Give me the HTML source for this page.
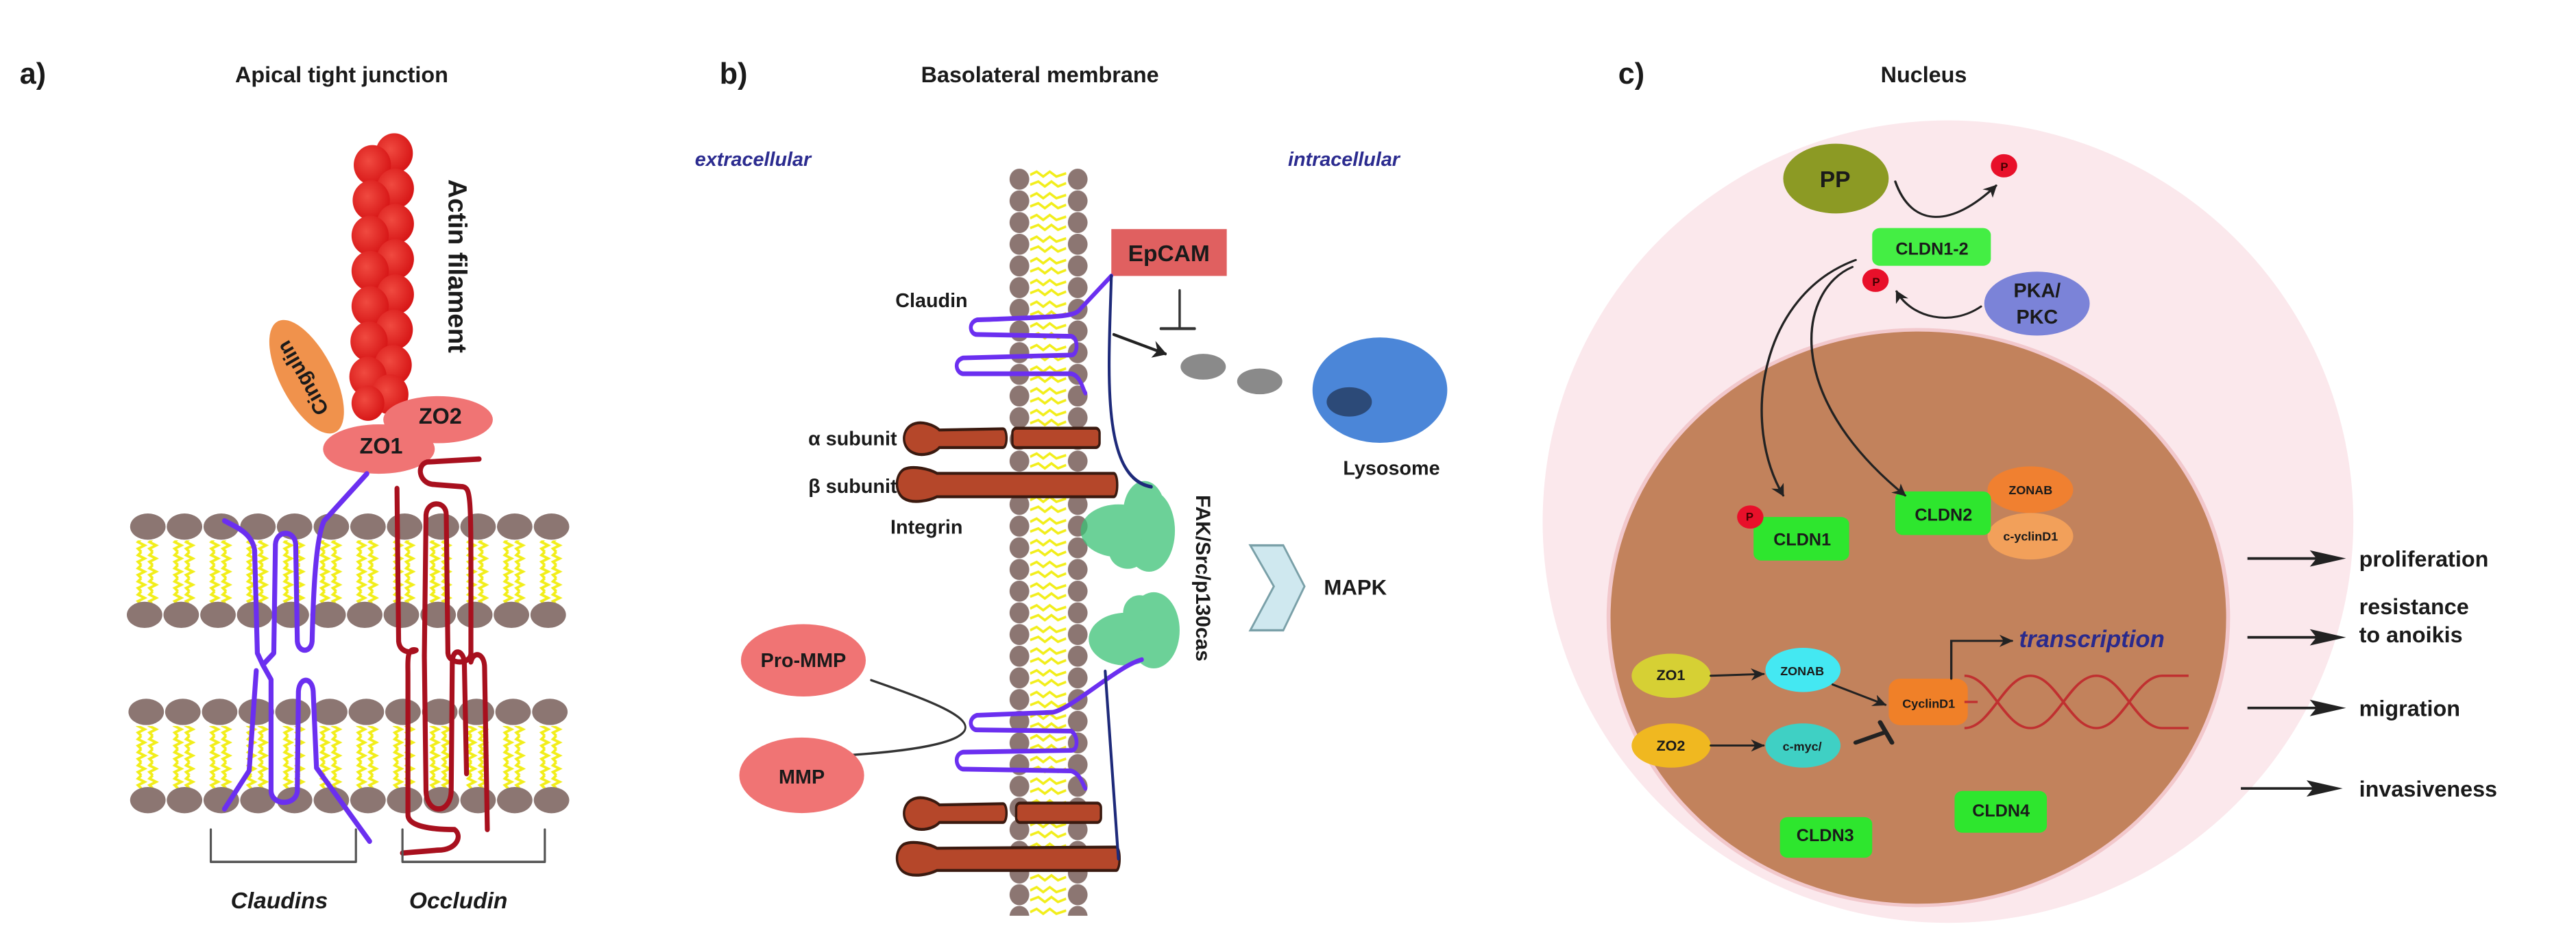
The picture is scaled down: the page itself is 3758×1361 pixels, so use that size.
<!DOCTYPE html>
<html><head><meta charset="utf-8"><style>
html,body{margin:0;padding:0;background:#fff;}
svg{display:block}
text{font-family:"Liberation Sans",Arial,sans-serif;font-weight:bold;fill:#1a1a1a}
</style></head><body>
<svg width="3758" height="1361" viewBox="0 0 1568 568" preserveAspectRatio="none" xmlns="http://www.w3.org/2000/svg">
<defs>
<pattern id="tA" patternUnits="userSpaceOnUse" x="79" y="0" width="22.33" height="8">
<polyline points="7,0 5,2 9,4 5,6 7,8" fill="none" stroke="#f2ee1a" stroke-width="1.6"/>
<polyline points="14,0 12,2 16,4 12,6 14,8" fill="none" stroke="#f2ee1a" stroke-width="1.6"/></pattern>
<pattern id="hB1" patternUnits="userSpaceOnUse" x="613.5" y="102.5" width="14" height="13.2"><ellipse cx="7" cy="6.6" rx="6" ry="6.4" fill="#8c7672"/></pattern>
<pattern id="hB2" patternUnits="userSpaceOnUse" x="649" y="102.5" width="14" height="13.2"><ellipse cx="7" cy="6.6" rx="6" ry="6.4" fill="#8c7672"/></pattern>
<pattern id="tB" patternUnits="userSpaceOnUse" x="627" y="102.5" width="22" height="13.2">
<polyline points="0,4 4,2 8,5 12,2 16,5 22,3" fill="none" stroke="#f2ee1a" stroke-width="1.5"/>
<polyline points="0,10 5,8 9,11 13,8 17,11 22,9" fill="none" stroke="#f2ee1a" stroke-width="1.5"/></pattern>
<radialGradient id="red" cx="0.4" cy="0.4" r="0.6"><stop offset="0" stop-color="#f04a40"/><stop offset="1" stop-color="#d81818"/></radialGradient>
<marker id="ar" viewBox="0 0 10 10" refX="9" refY="5" markerWidth="6" markerHeight="6" orient="auto"><path d="M0,0 L10,5 L0,10 L3,5 z" fill="#222"/></marker>
</defs>

<!-- ============ PANEL A ============ -->
<g transform="matrix(0.3333,0,0,0.358,0,5.6)">
  <ellipse cx="560" cy="625" rx="48" ry="108" transform="rotate(-30 560 625)" fill="#f0924c"/>
  <g fill="url(#red)">
    <circle cx="720" cy="245" r="34"/><circle cx="680" cy="265" r="34"/>
    <circle cx="722" cy="305" r="34"/><circle cx="678" cy="325" r="34"/>
    <circle cx="722" cy="365" r="34"/><circle cx="676" cy="385" r="34"/>
    <circle cx="722" cy="425" r="34"/><circle cx="676" cy="445" r="34"/>
    <circle cx="722" cy="485" r="34"/><circle cx="676" cy="505" r="34"/>
    <circle cx="720" cy="545" r="34"/><circle cx="674" cy="565" r="34"/>
    <circle cx="718" cy="605" r="34"/><circle cx="672" cy="625" r="34"/>
    <circle cx="712" cy="655" r="34"/><circle cx="672" cy="670" r="30"/>
  </g>
  <ellipse cx="800" cy="698" rx="100" ry="40" fill="#f07474"/>
  <ellipse cx="692" cy="748" rx="102" ry="42" fill="#f07474"/>
</g>
<rect x="79" y="329" width="268" height="38" fill="url(#tA)"/>
<rect x="79" y="442" width="268" height="38" fill="url(#tA)"/>
<g fill="#8c7672">
  <ellipse cx="90" cy="320.6" rx="10.8" ry="8"/><ellipse cx="112.3" cy="320.6" rx="10.8" ry="8"/><ellipse cx="134.7" cy="320.6" rx="10.8" ry="8"/><ellipse cx="157" cy="320.6" rx="10.8" ry="8"/><ellipse cx="179.3" cy="320.6" rx="10.8" ry="8"/><ellipse cx="201.7" cy="320.6" rx="10.8" ry="8"/><ellipse cx="224" cy="320.6" rx="10.8" ry="8"/><ellipse cx="246.3" cy="320.6" rx="10.8" ry="8"/><ellipse cx="268.7" cy="320.6" rx="10.8" ry="8"/><ellipse cx="291" cy="320.6" rx="10.8" ry="8"/><ellipse cx="313.3" cy="320.6" rx="10.8" ry="8"/><ellipse cx="335.7" cy="320.6" rx="10.8" ry="8"/>
  <ellipse cx="88" cy="374.3" rx="10.8" ry="8"/><ellipse cx="110.3" cy="374.3" rx="10.8" ry="8"/><ellipse cx="132.7" cy="374.3" rx="10.8" ry="8"/><ellipse cx="155" cy="374.3" rx="10.8" ry="8"/><ellipse cx="177.3" cy="374.3" rx="10.8" ry="8"/><ellipse cx="199.7" cy="374.3" rx="10.8" ry="8"/><ellipse cx="222" cy="374.3" rx="10.8" ry="8"/><ellipse cx="244.3" cy="374.3" rx="10.8" ry="8"/><ellipse cx="266.7" cy="374.3" rx="10.8" ry="8"/><ellipse cx="289" cy="374.3" rx="10.8" ry="8"/><ellipse cx="311.3" cy="374.3" rx="10.8" ry="8"/><ellipse cx="333.7" cy="374.3" rx="10.8" ry="8"/>
  <ellipse cx="89" cy="433.4" rx="10.8" ry="8"/><ellipse cx="111.3" cy="433.4" rx="10.8" ry="8"/><ellipse cx="133.7" cy="433.4" rx="10.8" ry="8"/><ellipse cx="156" cy="433.4" rx="10.8" ry="8"/><ellipse cx="178.3" cy="433.4" rx="10.8" ry="8"/><ellipse cx="200.7" cy="433.4" rx="10.8" ry="8"/><ellipse cx="223" cy="433.4" rx="10.8" ry="8"/><ellipse cx="245.3" cy="433.4" rx="10.8" ry="8"/><ellipse cx="267.7" cy="433.4" rx="10.8" ry="8"/><ellipse cx="290" cy="433.4" rx="10.8" ry="8"/><ellipse cx="312.3" cy="433.4" rx="10.8" ry="8"/><ellipse cx="334.7" cy="433.4" rx="10.8" ry="8"/>
  <ellipse cx="90" cy="487.1" rx="10.8" ry="8"/><ellipse cx="112.3" cy="487.1" rx="10.8" ry="8"/><ellipse cx="134.7" cy="487.1" rx="10.8" ry="8"/><ellipse cx="157" cy="487.1" rx="10.8" ry="8"/><ellipse cx="179.3" cy="487.1" rx="10.8" ry="8"/><ellipse cx="201.7" cy="487.1" rx="10.8" ry="8"/><ellipse cx="224" cy="487.1" rx="10.8" ry="8"/><ellipse cx="246.3" cy="487.1" rx="10.8" ry="8"/><ellipse cx="268.7" cy="487.1" rx="10.8" ry="8"/><ellipse cx="291" cy="487.1" rx="10.8" ry="8"/><ellipse cx="313.3" cy="487.1" rx="10.8" ry="8"/><ellipse cx="335.7" cy="487.1" rx="10.8" ry="8"/>
</g>
<g transform="matrix(0.3333,0,0,0.358,0,5.6)" fill="none" stroke-linecap="round" stroke-linejoin="round">
  <g stroke="#6b2ff0" stroke-width="9">
    <path d="M670,790 L592,870 C576,900 572,1000 570,1075 C568,1095 545,1095 543,1075 L540,910 C538,885 505,885 503,910 L500,1095 L480,1115 L470,1095 L465,920 C460,890 430,880 410,870"/>
    <path d="M480,1115 L495,1140 L495,1330 C497,1355 540,1355 543,1330 L545,1160 C547,1135 570,1135 572,1160 L578,1290 L675,1415"/>
    <path d="M468,1125 L455,1295 L410,1360"/>
  </g>
  <g stroke="#a8101e" stroke-width="9">
    <path d="M875,765 L780,770 C760,775 765,805 790,808 L845,812 C862,815 860,830 860,1095 C860,1115 820,1115 818,1095 L815,860 C815,835 780,835 778,860 L775,1100"/>
    <path d="M725,815 L728,1075 C730,1095 752,1095 760,1090"/>
    <path d="M760,1090 C742,1085 745,1110 745,1130 L745,1370 C745,1390 790,1395 830,1395 C845,1405 835,1430 800,1430 L735,1435"/>
    <path d="M775,1100 L778,1330 C780,1370 822,1370 824,1330 L826,1110 C827,1085 846,1090 848,1110 L852,1300"/>
    <path d="M860,1110 C865,1090 885,1095 885,1120 L890,1395"/>
  </g>
  <g stroke="#555" stroke-width="4">
    <path d="M385,1395 L385,1450 L650,1450 L650,1395"/>
    <path d="M735,1395 L735,1450 L995,1450 L995,1395"/>
  </g>
</g>
<text x="12" y="51" font-size="18">a)</text>
<text x="208" y="50" font-size="13.5" text-anchor="middle">Apical tight junction</text>
<text x="0" y="0" font-size="16" text-anchor="middle" font-weight="normal" transform="translate(273,162) rotate(90)">Actin filament</text>
<text x="0" y="0" font-size="12.5" text-anchor="middle" transform="translate(188,228) rotate(-120)">Cingulin</text>
<text x="268" y="258" font-size="13.5" text-anchor="middle">ZO2</text>
<text x="232" y="276" font-size="13.5" text-anchor="middle">ZO1</text>
<text x="170" y="553" font-size="14" font-style="italic" text-anchor="middle">Claudins</text>
<text x="279" y="553" font-size="14" font-style="italic" text-anchor="middle">Occludin</text>

<!-- ============ PANEL B ============ -->
<rect x="627" y="102.5" width="22" height="455" fill="url(#tB)"/>
<rect x="613.5" y="102.5" width="14" height="455" fill="url(#hB1)"/>
<rect x="649" y="102.5" width="14" height="455" fill="url(#hB2)"/>
<g transform="matrix(0.2868,0,0,0.3566,480,9.3)">
  <ellipse cx="880" cy="600" rx="48" ry="22" fill="#8a8a8a"/>
  <ellipse cx="1000" cy="625" rx="48" ry="22" fill="#8a8a8a"/>
  <ellipse cx="1255" cy="640" rx="143" ry="90" fill="#4b86d8"/>
  <ellipse cx="1190" cy="660" rx="48" ry="25" fill="#2c4a78"/>
  <rect x="685" y="365" width="245" height="80" fill="#e06060"/>
  <polygon points="980,905 1050,905 1095,975 1050,1050 980,1050 1030,975" fill="#cfe8ef" stroke="#7aa0a8" stroke-width="4"/>
  <g fill="#b5472a" stroke="#3a1a10" stroke-width="5">
    <path d="M260,700 C280,690 310,700 320,708 L455,706 C465,706 465,738 455,738 L320,738 C310,748 280,755 260,745 C240,735 240,710 260,700 Z"/>
    <rect x="475" y="705" width="185" height="33" rx="8"/>
    <path d="M245,775 C265,768 300,775 315,782 L690,782 C700,782 700,822 690,822 L315,822 C300,828 265,835 245,825 C225,815 225,785 245,775 Z"/>
    <path d="M260,1340 C280,1330 310,1340 320,1348 L455,1346 C465,1346 465,1378 455,1378 L320,1378 C310,1388 280,1395 260,1385 C240,1375 240,1350 260,1340 Z"/>
    <rect x="483" y="1345" width="180" height="33" rx="8"/>
    <path d="M245,1415 C265,1408 300,1415 315,1422 L695,1420 C705,1420 705,1460 695,1460 L315,1460 C300,1466 265,1473 245,1463 C225,1453 225,1425 245,1415 Z"/>
  </g>
  <g fill="#3cc276" opacity="0.75">
    <ellipse cx="700" cy="880" rx="80" ry="45"/><ellipse cx="755" cy="850" rx="45" ry="55"/><ellipse cx="765" cy="880" rx="55" ry="70"/><ellipse cx="720" cy="915" rx="40" ry="30"/>
    <ellipse cx="715" cy="1065" rx="78" ry="45"/><ellipse cx="775" cy="1050" rx="55" ry="65"/><ellipse cx="745" cy="1020" rx="35" ry="30"/>
  </g>
  <g fill="none" stroke-linecap="round" stroke-linejoin="round">
    <path d="M685,445 L615,505 C600,515 560,515 400,520 C380,525 385,545 400,545 L600,548 C615,550 615,580 600,580 L370,585 C350,590 355,610 370,612 L600,612 C620,615 625,640 630,645" stroke="#6b2ff0" stroke-width="8"/>
    <path d="M685,445 C680,600 660,790 770,805" stroke="#1e2a7a" stroke-width="6"/>
    <path d="M750,1100 C700,1110 600,1185 560,1190 L400,1195 C380,1200 385,1220 400,1220 L600,1222 C615,1230 615,1255 600,1255 L370,1258 C350,1262 355,1285 370,1287 L600,1290 C620,1295 625,1315 630,1320" stroke="#6b2ff0" stroke-width="8"/>
    <path d="M672,1120 L700,1440" stroke="#1e2a7a" stroke-width="6"/>
    <path d="M830,470 L830,535 M790,535 L862,535" stroke="#333" stroke-width="5"/>
    <path d="M690,545 L800,578" stroke="#222" stroke-width="5" marker-end="url(#ar)"/>
    <path d="M175,1135 C300,1170 400,1200 370,1225 C340,1250 200,1260 90,1265" stroke="#333" stroke-width="4" marker-end="url(#ar)"/>
  </g>
</g>
<ellipse cx="489" cy="402" rx="38" ry="22" fill="#f07474"/>
<ellipse cx="488" cy="472" rx="38" ry="23" fill="#f07474"/>
<text x="438" y="51" font-size="18">b)</text>
<text x="633" y="50" font-size="13.5" text-anchor="middle">Basolateral membrane</text>
<text x="423" y="101" font-size="12" font-style="italic" style="fill:#2b2b8f">extracellular</text>
<text x="784" y="101" font-size="12" font-style="italic" style="fill:#2b2b8f">intracellular</text>
<text x="711.5" y="159" font-size="14" text-anchor="middle">EpCAM</text>
<text x="567" y="187" font-size="12" text-anchor="middle">Claudin</text>
<text x="546" y="271" font-size="12" text-anchor="end">α subunit</text>
<text x="546" y="300" font-size="12" text-anchor="end">β subunit</text>
<text x="564" y="325" font-size="12" text-anchor="middle">Integrin</text>
<text x="847" y="289" font-size="12" text-anchor="middle">Lysosome</text>
<text x="825" y="362" font-size="13" text-anchor="middle">MAPK</text>
<text x="0" y="0" font-size="12.5" text-anchor="middle" transform="translate(728,352) rotate(90)">FAK/Src/p130cas</text>
<text x="489" y="406" font-size="12" text-anchor="middle">Pro-MMP</text>
<text x="488" y="477" font-size="12" text-anchor="middle">MMP</text>

<!-- ============ PANEL C ============ -->
<g transform="matrix(0.4012,0,0,0.354,939,9.6)">
  <ellipse cx="615" cy="870" rx="615" ry="690" fill="#fbe8ec"/>
  <ellipse cx="570" cy="1035" rx="470" ry="495" fill="#c2825c" stroke="#f2c8cc" stroke-width="6"/>
  <ellipse cx="445" cy="280" rx="80" ry="60" fill="#8c9a24"/>
  <ellipse cx="750" cy="495" rx="80" ry="55" fill="#7b83d8"/>
  <rect x="500" y="365" width="180" height="65" rx="12" fill="#44ee44"/>
  <rect x="320" y="862" width="145" height="75" rx="12" fill="#2ee62e"/>
  <ellipse cx="740" cy="815" rx="65" ry="40" fill="#f08030"/>
  <ellipse cx="740" cy="895" rx="65" ry="40" fill="#f2a05a"/>
  <rect x="535" y="818" width="145" height="75" rx="12" fill="#2ee62e"/>
  <rect x="360" y="1378" width="140" height="70" rx="12" fill="#2ee62e"/>
  <rect x="625" y="1333" width="140" height="72" rx="12" fill="#2ee62e"/>
  <ellipse cx="195" cy="1135" rx="60" ry="38" fill="#d6d034"/>
  <ellipse cx="195" cy="1255" rx="60" ry="38" fill="#f0b820"/>
  <ellipse cx="395" cy="1125" rx="57" ry="38" fill="#44e8f2"/>
  <ellipse cx="395" cy="1255" rx="57" ry="38" fill="#3fd0c4"/>
  <rect x="525" y="1140" width="120" height="80" rx="18" fill="#f08028"/>
  <g fill="none" stroke="#c03030" stroke-width="4">
    <path d="M640,1135 C680,1135 700,1225 740,1225 C780,1225 800,1135 840,1135 C880,1135 900,1225 940,1225 L980,1225"/>
    <path d="M640,1225 C680,1225 700,1135 740,1135 C780,1135 800,1225 840,1225 C880,1225 900,1135 940,1135 L980,1135"/>
    <path d="M640,1180 L660,1180"/>
  </g>
  <g fill="none" stroke="#222" stroke-width="3.5" stroke-linecap="round">
    <path d="M535,285 C560,365 620,365 688,292" marker-end="url(#ar)"/>
    <path d="M665,500 C620,535 560,520 537,474" marker-end="url(#ar)"/>
    <path d="M475,420 C330,480 300,700 365,825" marker-end="url(#ar)"/>
    <path d="M470,432 C390,470 360,650 550,825" marker-end="url(#ar)"/>
    <path d="M255,1135 L335,1132" marker-end="url(#ar)"/>
    <path d="M255,1255 L335,1255" marker-end="url(#ar)"/>
    <path d="M440,1150 L520,1185" marker-end="url(#ar)"/>
    <path d="M475,1250 L520,1232 M512,1215 L530,1250" stroke-width="7"/>
    <path d="M620,1140 L620,1075 L712,1075" marker-end="url(#ar)"/>
  </g>
  <circle cx="700" cy="258" r="20" fill="#e8102a"/>
  <circle cx="505" cy="455" r="20" fill="#e8102a"/>
  <circle cx="315" cy="862" r="20" fill="#e8102a"/>
</g>
<g fill="#222">
  <polygon points="1406,335 1428,340 1406,345 1410,340"/><line x1="1368" y1="340" x2="1410" y2="340" stroke="#222" stroke-width="1.6"/>
  <polygon points="1406,383 1428,388 1406,393 1410,388"/><line x1="1368" y1="388" x2="1410" y2="388" stroke="#222" stroke-width="1.6"/>
  <polygon points="1406,426 1428,431 1406,436 1410,431"/><line x1="1368" y1="431" x2="1410" y2="431" stroke="#222" stroke-width="1.6"/>
  <polygon points="1404,475 1426,480 1404,485 1408,480"/><line x1="1364" y1="480" x2="1408" y2="480" stroke="#222" stroke-width="1.6"/>
</g>
<text x="985" y="51" font-size="18">c)</text>
<text x="1171" y="50" font-size="13.5" text-anchor="middle">Nucleus</text>
<text x="1117" y="114" font-size="14" font-weight="normal" text-anchor="middle">PP</text>
<text x="1220" y="104" font-size="7" text-anchor="middle" style="fill:#400">P</text>
<text x="1142" y="174" font-size="7" text-anchor="middle" style="fill:#400">P</text>
<text x="1065" y="317" font-size="7" text-anchor="middle" style="fill:#400">P</text>
<text x="1176" y="155" font-size="10.5" font-weight="normal" text-anchor="middle">CLDN1-2</text>
<text x="1240" y="181" font-size="12" font-weight="normal" text-anchor="middle">PKA/</text>
<text x="1240" y="197" font-size="12" font-weight="normal" text-anchor="middle">PKC</text>
<text x="1097" y="332" font-size="10.5" font-weight="normal" text-anchor="middle">CLDN1</text>
<text x="1183" y="317" font-size="10.5" font-weight="normal" text-anchor="middle">CLDN2</text>
<text x="1236" y="301" font-size="7.5" font-weight="normal" text-anchor="middle">ZONAB</text>
<text x="1236" y="329" font-size="7.5" font-weight="normal" text-anchor="middle">c-yclinD1</text>
<text x="1017" y="414" font-size="9" font-weight="normal" text-anchor="middle">ZO1</text>
<text x="1017" y="457" font-size="9" font-weight="normal" text-anchor="middle">ZO2</text>
<text x="1097" y="411" font-size="7.5" font-weight="normal" text-anchor="middle">ZONAB</text>
<text x="1097" y="457" font-size="7.5" font-weight="normal" text-anchor="middle">c-myc/</text>
<text x="1174" y="431" font-size="7.5" font-weight="normal" text-anchor="middle">CyclinD1</text>
<text x="1229" y="394" font-size="14.5" font-style="italic" style="fill:#2a2a8c">transcription</text>
<text x="1111" y="512" font-size="10.5" font-weight="normal" text-anchor="middle">CLDN3</text>
<text x="1218" y="497" font-size="10.5" font-weight="normal" text-anchor="middle">CLDN4</text>
<text x="1436" y="345" font-size="13.5">proliferation</text>
<text x="1436" y="374" font-size="13.5">resistance</text>
<text x="1436" y="391" font-size="13.5">to anoikis</text>
<text x="1436" y="436" font-size="13.5">migration</text>
<text x="1436" y="485" font-size="13.5">invasiveness</text>
</svg>
</body></html>
